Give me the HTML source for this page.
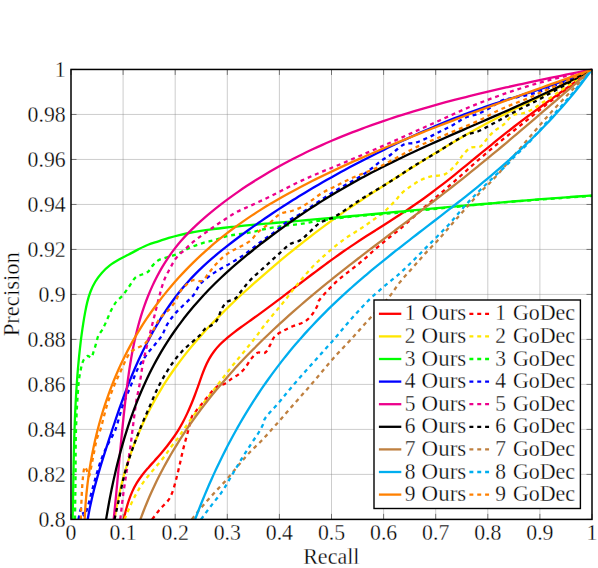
<!DOCTYPE html>
<html><head><meta charset="utf-8"><title>Precision-Recall</title>
<style>html,body{margin:0;padding:0;background:#fff;}svg{display:block;}text{font-family:"Liberation Serif",serif;font-size:23.30px;fill:#000;stroke:#fff;stroke-width:0.32px;}</style></head><body>
<svg width="598" height="568" viewBox="0 0 598 568">
<rect x="0" y="0" width="598" height="568" fill="#fff"/>
<path d="M123.10 69.45V519.40M175.20 69.45V519.40M227.30 69.45V519.40M279.40 69.45V519.40M331.50 69.45V519.40M383.60 69.45V519.40M435.70 69.45V519.40M487.80 69.45V519.40M539.90 69.45V519.40M71.00 114.44H592.00M71.00 159.44H592.00M71.00 204.44H592.00M71.00 249.43H592.00M71.00 294.43H592.00M71.00 339.42H592.00M71.00 384.42H592.00M71.00 429.41H592.00M71.00 474.40H592.00" stroke="#808080" stroke-width="0.4" fill="none"/>
<path d="M71.00 519.40v-5.50M71.00 69.45v5.50M71.00 69.45h5.50M592.00 69.45h-5.50M123.10 519.40v-5.50M123.10 69.45v5.50M71.00 114.44h5.50M592.00 114.44h-5.50M175.20 519.40v-5.50M175.20 69.45v5.50M71.00 159.44h5.50M592.00 159.44h-5.50M227.30 519.40v-5.50M227.30 69.45v5.50M71.00 204.44h5.50M592.00 204.44h-5.50M279.40 519.40v-5.50M279.40 69.45v5.50M71.00 249.43h5.50M592.00 249.43h-5.50M331.50 519.40v-5.50M331.50 69.45v5.50M71.00 294.43h5.50M592.00 294.43h-5.50M383.60 519.40v-5.50M383.60 69.45v5.50M71.00 339.42h5.50M592.00 339.42h-5.50M435.70 519.40v-5.50M435.70 69.45v5.50M71.00 384.42h5.50M592.00 384.42h-5.50M487.80 519.40v-5.50M487.80 69.45v5.50M71.00 429.41h5.50M592.00 429.41h-5.50M539.90 519.40v-5.50M539.90 69.45v5.50M71.00 474.40h5.50M592.00 474.40h-5.50M592.00 519.40v-5.50M592.00 69.45v5.50M71.00 519.40h5.50M592.00 519.40h-5.50" stroke="#222" stroke-width="0.55" fill="none"/>
<clipPath id="c"><rect x="71.00" y="68.85" width="521.60" height="451.15"/></clipPath>
<g clip-path="url(#c)" fill="none" stroke-width="2.30" stroke-linejoin="round">
<path d="M123.70 519.40C124.46 516.26 125.13 513.10 125.97 509.98C126.82 506.86 127.70 503.73 128.75 500.66C129.79 497.62 130.92 494.58 132.24 491.65C133.55 488.75 135.01 485.88 136.65 483.15C138.29 480.43 140.15 477.83 142.07 475.29C144.00 472.74 146.11 470.31 148.20 467.88C150.30 465.43 152.50 463.08 154.63 460.66C156.77 458.24 158.93 455.85 161.01 453.39C163.09 450.94 165.15 448.46 167.13 445.94C169.11 443.42 171.04 440.87 172.89 438.25C174.73 435.65 176.51 432.99 178.19 430.28C179.87 427.56 181.45 424.78 182.96 421.97C184.47 419.15 185.88 416.27 187.24 413.37C188.61 410.45 189.89 407.49 191.13 404.52C192.38 401.53 193.56 398.51 194.71 395.48C195.86 392.43 196.95 389.36 198.05 386.30C199.15 383.23 200.18 380.13 201.30 377.07C202.42 374.04 203.52 370.99 204.79 368.02C206.05 365.10 207.35 362.18 208.90 359.40C210.42 356.66 212.11 353.97 213.99 351.47C215.87 348.95 218.00 346.58 220.19 344.32C222.41 342.04 224.81 339.90 227.23 337.82C229.66 335.73 232.21 333.76 234.76 331.80C237.31 329.84 239.93 327.96 242.54 326.07C245.15 324.19 247.80 322.35 250.42 320.47C253.04 318.60 255.67 316.73 258.27 314.84C260.88 312.95 263.47 311.04 266.06 309.13C268.65 307.22 271.23 305.30 273.80 303.37C276.37 301.44 278.94 299.50 281.50 297.56C284.06 295.62 286.62 293.67 289.18 291.73C291.73 289.78 294.29 287.83 296.84 285.88C299.40 283.94 301.95 281.99 304.51 280.05C307.06 278.11 309.62 276.17 312.18 274.24C314.75 272.31 317.31 270.39 319.89 268.47C322.46 266.56 325.04 264.65 327.63 262.76C330.22 260.87 332.82 258.98 335.43 257.12C338.04 255.25 340.65 253.40 343.29 251.57C345.92 249.74 348.57 247.92 351.23 246.13C353.89 244.33 356.56 242.56 359.25 240.79C361.93 239.03 364.63 237.29 367.33 235.55C370.03 233.81 372.74 232.08 375.45 230.35C378.16 228.62 380.88 226.90 383.59 225.18C386.30 223.45 389.02 221.73 391.72 219.99C394.43 218.25 397.13 216.51 399.83 214.76C402.52 213.00 405.20 211.24 407.87 209.45C410.54 207.66 413.20 205.86 415.84 204.03C418.48 202.20 421.10 200.35 423.71 198.48C426.31 196.60 428.90 194.70 431.48 192.78C434.05 190.86 436.61 188.92 439.15 186.96C441.70 185.01 444.24 183.03 446.76 181.04C449.29 179.06 451.80 177.05 454.31 175.04C456.82 173.03 459.32 171.01 461.81 168.98C464.31 166.95 466.80 164.92 469.29 162.88C471.78 160.84 474.26 158.80 476.75 156.75C479.23 154.71 481.72 152.67 484.20 150.63C486.69 148.59 489.18 146.55 491.68 144.52C494.17 142.49 496.67 140.46 499.17 138.45C501.68 136.44 504.19 134.43 506.72 132.44C509.24 130.45 511.77 128.47 514.31 126.50C516.85 124.54 519.41 122.60 521.97 120.66C524.54 118.72 527.11 116.80 529.69 114.89C532.27 112.98 534.86 111.08 537.45 109.18C540.04 107.28 542.64 105.40 545.24 103.51C547.84 101.62 550.45 99.75 553.05 97.87C555.66 95.99 558.27 94.11 560.87 92.23C563.48 90.35 566.09 88.48 568.69 86.59C571.29 84.71 573.89 82.82 576.49 80.92C579.09 79.03 581.68 77.13 584.26 75.22C586.85 73.30 589.42 71.37 592.00 69.45" stroke="#ff0000"/>
<path d="M152.10 519.40C154.90 515.80 157.55 512.07 160.50 508.60C162.98 505.67 166.18 503.29 168.40 500.20C170.18 497.72 171.42 494.78 172.50 491.90C173.92 488.11 174.85 484.12 175.90 480.20C177.09 475.76 178.14 471.28 179.20 466.80C180.64 460.68 181.87 454.50 183.40 448.40C184.94 442.24 186.76 436.14 188.40 430.00C189.56 425.64 190.14 421.02 191.80 416.90C192.68 414.72 194.53 412.98 196.00 411.10C198.43 407.98 201.02 404.98 203.50 401.90C205.75 399.11 207.83 396.17 210.20 393.50C212.29 391.14 214.33 388.52 216.90 386.80C219.33 385.18 222.62 384.93 225.20 383.50C227.62 382.16 229.60 380.08 231.90 378.50C234.07 377.01 236.57 375.95 238.60 374.30C241.03 372.32 243.32 370.04 245.30 367.60C247.45 364.94 248.83 361.65 251.00 359.00C252.90 356.68 254.95 353.85 257.50 352.70C259.61 351.75 263.11 353.84 265.00 352.70C267.31 351.31 268.57 347.73 270.10 345.10C271.50 342.70 272.10 339.72 273.80 337.60C275.43 335.56 277.81 333.97 280.10 332.60C284.08 330.21 288.35 328.21 292.60 326.30C296.72 324.45 301.44 323.64 305.20 321.30C308.14 319.47 310.57 316.58 312.70 313.80C314.73 311.15 316.26 308.03 317.70 305.00C318.36 303.60 318.13 301.76 319.00 300.50C321.49 296.89 324.75 293.66 327.80 290.40C331.02 286.96 334.28 283.53 337.80 280.40C341.78 276.86 346.13 273.74 350.30 270.40C354.50 267.04 358.81 263.79 362.90 260.30C367.17 256.66 371.15 252.67 375.40 249.00C380.35 244.73 385.43 240.62 390.50 236.50C393.63 233.96 396.95 231.64 400.00 229.00C409.11 221.14 417.94 212.93 427.00 205.00C435.50 197.56 444.20 190.34 452.70 182.90C461.13 175.51 469.35 167.87 477.80 160.50C484.02 155.07 490.34 149.77 496.70 144.50C502.21 139.93 507.82 135.48 513.40 131.00C518.99 126.52 524.61 122.07 530.20 117.60C535.77 113.14 541.27 108.59 546.90 104.20C561.87 92.54 576.97 81.03 592.00 69.45" stroke="#ff0000" stroke-dasharray="3.95 3.9"/>
<path d="M114.50 519.40C115.03 516.13 115.52 512.86 116.09 509.60C116.67 506.34 117.29 503.09 117.95 499.86C118.62 496.62 119.33 493.39 120.08 490.17C120.84 486.95 121.64 483.75 122.48 480.55C123.33 477.36 124.21 474.18 125.15 471.01C126.08 467.84 127.05 464.69 128.07 461.55C129.09 458.41 130.16 455.29 131.26 452.18C132.37 449.08 133.52 445.99 134.71 442.92C135.90 439.84 137.14 436.79 138.41 433.75C139.69 430.72 141.01 427.70 142.37 424.71C143.73 421.71 145.14 418.74 146.59 415.78C148.03 412.83 149.52 409.90 151.05 406.99C152.58 404.08 154.15 401.19 155.76 398.33C157.37 395.47 159.03 392.63 160.72 389.82C162.41 387.01 164.15 384.22 165.93 381.46C167.70 378.71 169.52 375.97 171.37 373.27C173.23 370.56 175.12 367.89 177.06 365.24C178.99 362.59 180.96 359.96 182.96 357.36C184.97 354.76 187.01 352.19 189.08 349.64C191.15 347.09 193.26 344.57 195.39 342.07C197.53 339.56 199.69 337.08 201.88 334.63C204.08 332.17 206.30 329.73 208.54 327.32C210.79 324.90 213.06 322.51 215.35 320.14C217.65 317.76 219.96 315.41 222.30 313.07C224.64 310.74 227.00 308.42 229.37 306.12C231.75 303.82 234.14 301.53 236.55 299.27C238.96 297.00 241.39 294.75 243.83 292.51C246.27 290.28 248.72 288.06 251.19 285.85C253.65 283.64 256.12 281.45 258.61 279.27C261.09 277.09 263.58 274.92 266.08 272.76C268.58 270.61 271.09 268.47 273.60 266.33C276.11 264.20 278.64 262.08 281.17 259.97C283.69 257.87 286.23 255.77 288.78 253.69C291.32 251.61 293.88 249.54 296.44 247.49C299.01 245.43 301.58 243.39 304.16 241.36C306.75 239.34 309.34 237.33 311.95 235.33C314.55 233.33 317.17 231.34 319.80 229.38C322.42 227.41 325.06 225.45 327.71 223.51C330.36 221.58 333.03 219.65 335.70 217.74C338.38 215.84 341.07 213.95 343.77 212.07C346.47 210.19 349.19 208.33 351.91 206.49C354.63 204.64 357.37 202.80 360.11 200.98C362.86 199.16 365.61 197.35 368.37 195.54C371.13 193.74 373.90 191.95 376.67 190.16C379.44 188.37 382.22 186.59 385.00 184.81C387.78 183.04 390.56 181.27 393.35 179.50C396.13 177.73 398.92 175.96 401.70 174.19C404.49 172.43 407.27 170.66 410.06 168.90C412.85 167.14 415.63 165.38 418.43 163.63C421.22 161.88 424.01 160.13 426.81 158.39C429.60 156.66 432.40 154.92 435.21 153.20C438.01 151.48 440.82 149.76 443.64 148.06C446.46 146.35 449.28 144.66 452.10 142.98C454.93 141.30 457.77 139.63 460.61 137.98C463.45 136.32 466.30 134.68 469.16 133.06C472.02 131.44 474.89 129.83 477.77 128.24C480.65 126.65 483.54 125.08 486.44 123.53C489.34 121.97 492.25 120.44 495.17 118.93C498.09 117.41 501.02 115.92 503.96 114.44C506.90 112.96 509.85 111.49 512.80 110.03C515.75 108.57 518.71 107.12 521.67 105.68C524.63 104.23 527.60 102.79 530.56 101.35C533.52 99.90 536.49 98.46 539.45 97.01C542.41 95.57 545.37 94.12 548.33 92.65C551.28 91.19 554.24 89.72 557.18 88.24C560.12 86.75 563.06 85.25 565.98 83.73C568.91 82.21 571.83 80.68 574.73 79.12C577.64 77.56 580.53 75.98 583.41 74.37C586.29 72.76 589.14 71.09 592.00 69.45" stroke="#ffe600"/>
<path d="M124.50 519.40C127.30 513.00 129.82 506.46 132.90 500.20C135.42 495.06 138.20 490.00 141.30 485.20C143.77 481.37 146.75 477.87 149.60 474.30C152.32 470.90 155.22 467.65 158.00 464.30C160.02 461.88 162.10 459.51 164.00 457.00C166.10 454.21 167.92 451.21 170.00 448.40C172.72 444.71 175.70 441.21 178.40 437.50C180.17 435.07 181.68 432.46 183.40 430.00C187.25 424.50 191.04 418.95 195.10 413.60C199.41 407.92 204.11 402.52 208.50 396.90C213.04 391.09 217.40 385.14 221.90 379.30C225.77 374.28 229.63 369.25 233.60 364.30C237.43 359.51 241.43 354.86 245.30 350.10C248.96 345.59 252.66 341.10 256.20 336.50C259.22 332.57 261.91 328.38 265.00 324.50C271.34 316.54 278.10 308.91 284.50 301.00C287.30 297.54 289.85 293.89 292.60 290.40C295.91 286.19 299.21 281.96 302.70 277.90C306.74 273.19 310.79 268.45 315.20 264.10C320.82 258.55 326.78 253.32 332.80 248.20C336.81 244.79 340.98 241.52 345.30 238.50C350.71 234.72 356.49 231.45 362.00 227.80C365.29 225.62 368.50 223.32 371.70 221.00C375.77 218.05 379.99 215.27 383.80 212.00C387.76 208.60 391.39 204.78 395.00 201.00C396.96 198.95 398.56 196.56 400.50 194.50C401.89 193.03 403.36 191.58 405.00 190.40C409.89 186.88 414.84 183.29 420.10 180.40C423.21 178.69 426.66 177.46 430.10 176.60C435.02 175.36 440.73 176.11 445.20 174.10C449.09 172.35 452.19 168.53 455.20 165.30C458.02 162.27 459.99 158.45 462.70 155.30C465.02 152.61 467.28 149.31 470.30 147.80C473.15 146.38 477.57 148.06 480.30 146.50C483.41 144.72 485.21 140.62 487.80 137.80C490.21 135.18 492.58 132.47 495.30 130.20C497.62 128.27 500.60 127.16 502.90 125.20C506.47 122.16 509.05 117.56 512.90 115.20C515.42 113.66 519.02 114.26 522.00 113.50C524.28 112.92 526.55 112.16 528.70 111.20C531.02 110.16 533.24 108.85 535.40 107.50C537.71 106.05 539.81 104.28 542.10 102.80C544.28 101.38 546.62 100.22 548.80 98.80C551.09 97.32 553.24 95.63 555.50 94.10C567.64 85.85 579.83 77.67 592.00 69.45" stroke="#ffe600" stroke-dasharray="3.95 3.9"/>
<path d="M72.60 519.40C72.67 515.77 72.75 512.13 72.82 508.50C72.90 504.86 72.96 501.23 73.03 497.59C73.09 493.95 73.15 490.32 73.22 486.68C73.28 483.04 73.34 479.40 73.41 475.76C73.47 472.12 73.54 468.48 73.61 464.84C73.69 461.20 73.76 457.56 73.85 453.92C73.93 450.28 74.02 446.64 74.12 443.00C74.21 439.36 74.32 435.73 74.44 432.09C74.55 428.45 74.68 424.81 74.82 421.17C74.96 417.54 75.11 413.90 75.28 410.27C75.45 406.63 75.63 403.00 75.83 399.37C76.03 395.74 76.24 392.11 76.47 388.48C76.71 384.85 76.96 381.22 77.23 377.60C77.51 373.97 77.80 370.35 78.12 366.73C78.44 363.11 78.77 359.49 79.14 355.87C79.51 352.26 79.89 348.64 80.32 345.03C80.74 341.42 81.19 337.81 81.68 334.20C82.17 330.59 82.69 326.99 83.26 323.39C83.82 319.78 84.40 316.17 85.08 312.59C85.76 309.00 86.42 305.41 87.34 301.88C88.24 298.38 89.23 294.87 90.55 291.51C91.87 288.16 93.40 284.82 95.26 281.74C97.14 278.62 99.35 275.61 101.77 272.89C104.19 270.16 106.92 267.63 109.81 265.39C112.66 263.19 115.83 261.36 118.98 259.56C122.13 257.76 125.47 256.29 128.68 254.60C131.90 252.89 135.03 251.02 138.28 249.37C141.51 247.74 144.75 246.08 148.10 244.75C151.47 243.40 155.00 242.47 158.45 241.33C161.91 240.19 165.34 238.97 168.83 237.92C172.30 236.88 175.81 235.93 179.33 235.07C182.86 234.21 186.41 233.45 189.97 232.75C193.53 232.06 197.11 231.45 200.69 230.87C204.28 230.30 207.89 229.80 211.49 229.33C215.10 228.85 218.72 228.43 222.34 228.01C225.95 227.60 229.57 227.21 233.19 226.83C236.81 226.45 240.44 226.09 244.06 225.73C247.68 225.38 251.30 225.03 254.93 224.70C258.55 224.36 262.17 224.03 265.80 223.71C269.42 223.38 273.04 223.07 276.67 222.75C280.29 222.43 283.92 222.12 287.54 221.81C291.16 221.50 294.79 221.19 298.41 220.88C302.04 220.56 305.66 220.25 309.28 219.93C312.91 219.61 316.53 219.29 320.16 218.96C323.78 218.64 327.40 218.32 331.03 217.99C334.65 217.66 338.27 217.33 341.89 217.00C345.52 216.67 349.14 216.34 352.76 216.01C356.39 215.67 360.01 215.34 363.63 215.00C367.25 214.67 370.88 214.33 374.50 214.00C378.12 213.66 381.74 213.32 385.37 212.99C388.99 212.65 392.61 212.31 396.23 211.97C399.86 211.63 403.48 211.30 407.10 210.96C410.72 210.62 414.35 210.28 417.97 209.95C421.59 209.61 425.21 209.28 428.84 208.94C432.46 208.61 436.08 208.27 439.71 207.94C443.33 207.61 446.95 207.27 450.58 206.94C454.20 206.61 457.82 206.29 461.45 205.96C465.07 205.63 468.69 205.31 472.32 204.98C475.94 204.66 479.57 204.34 483.19 204.02C486.81 203.70 490.44 203.39 494.06 203.08C497.69 202.76 501.31 202.45 504.94 202.14C508.56 201.84 512.19 201.53 515.81 201.23C519.44 200.93 523.07 200.63 526.69 200.34C530.32 200.04 533.94 199.75 537.57 199.47C541.20 199.18 544.83 198.90 548.45 198.62C552.08 198.34 555.71 198.07 559.34 197.80C562.96 197.53 566.59 197.26 570.22 197.00C573.85 196.74 577.48 196.49 581.11 196.24C584.74 195.99 588.37 195.75 592.00 195.50" stroke="#00ff00"/>
<path d="M75.00 519.40C75.17 506.27 75.35 493.13 75.50 480.00C75.69 463.33 75.48 446.66 76.00 430.00C76.48 414.66 77.26 399.29 78.50 384.00C78.93 378.76 79.91 373.54 81.00 368.40C81.61 365.54 82.25 362.51 83.60 360.00C84.49 358.34 86.19 356.38 87.70 355.90C88.69 355.58 90.37 358.12 91.10 357.60C92.33 356.72 92.89 353.71 93.60 351.70C94.56 348.98 95.27 346.17 96.10 343.40C96.94 340.60 97.42 337.63 98.60 335.00C99.38 333.26 101.04 331.97 102.00 330.30C103.54 327.61 104.80 324.73 106.10 321.90C107.87 318.03 109.29 313.99 111.20 310.20C112.65 307.32 114.23 304.43 116.20 301.90C118.13 299.43 120.88 297.61 122.90 295.20C125.31 292.31 127.31 289.08 129.50 286.00C131.48 283.21 133.00 279.88 135.40 277.60C136.93 276.15 139.33 275.72 141.30 274.80C143.49 273.78 146.10 273.30 147.90 271.80C150.00 270.06 151.10 267.14 153.00 265.10C154.73 263.24 156.63 261.35 158.80 260.10C160.96 258.85 163.59 258.40 166.00 257.60C169.55 256.43 173.25 255.62 176.70 254.20C180.71 252.55 184.41 250.13 188.40 248.40C192.78 246.50 197.25 244.73 201.80 243.30C206.18 241.93 210.78 241.27 215.20 240.00C219.15 238.87 222.90 237.00 226.90 236.10C232.37 234.87 238.05 234.51 243.60 233.60C247.41 232.98 251.22 232.31 255.00 231.50C258.36 230.78 261.63 229.65 265.00 229.00C271.66 227.72 278.38 226.65 285.10 225.70C290.11 224.99 295.19 224.72 300.20 224.00C305.22 223.28 310.19 222.18 315.20 221.40C321.05 220.48 326.92 219.62 332.80 218.90C342.82 217.68 352.85 216.55 362.90 215.60C373.59 214.59 384.31 214.01 395.00 213.00C413.35 211.27 431.66 209.20 450.00 207.40C465.93 205.84 481.86 204.28 497.80 202.90C511.86 201.68 525.93 200.65 540.00 199.60C557.33 198.31 574.67 197.13 592.00 195.90" stroke="#00ff00" stroke-dasharray="3.95 3.9"/>
<path d="M87.70 519.40C88.33 515.97 88.90 512.53 89.58 509.12C90.26 505.70 91.00 502.30 91.78 498.90C92.56 495.51 93.39 492.13 94.25 488.75C95.11 485.38 96.02 482.02 96.96 478.66C97.89 475.30 98.86 471.95 99.85 468.61C100.85 465.27 101.87 461.93 102.90 458.60C103.94 455.27 105.00 451.95 106.06 448.63C107.13 445.31 108.21 442.00 109.29 438.68C110.37 435.37 111.46 432.06 112.55 428.75C113.65 425.45 114.75 422.15 115.87 418.85C116.99 415.56 118.11 412.27 119.26 408.98C120.41 405.70 121.58 402.43 122.77 399.16C123.95 395.89 125.16 392.64 126.40 389.39C127.64 386.14 128.90 382.90 130.20 379.68C131.50 376.46 132.83 373.24 134.19 370.05C135.56 366.85 136.96 363.66 138.40 360.49C139.85 357.32 141.33 354.16 142.86 351.02C144.39 347.88 145.96 344.76 147.58 341.66C149.20 338.56 150.86 335.48 152.57 332.43C154.29 329.38 156.04 326.35 157.84 323.35C159.65 320.36 161.49 317.39 163.39 314.45C165.29 311.52 167.23 308.62 169.22 305.76C171.21 302.90 173.25 300.08 175.34 297.30C177.44 294.52 179.58 291.79 181.78 289.10C183.99 286.43 186.24 283.79 188.56 281.22C190.88 278.64 193.27 276.12 195.70 273.66C198.14 271.19 200.63 268.78 203.16 266.41C205.70 264.04 208.29 261.72 210.90 259.43C213.52 257.14 216.19 254.90 218.87 252.69C221.56 250.47 224.28 248.30 227.02 246.14C229.76 243.99 232.53 241.87 235.31 239.76C238.09 237.65 240.88 235.57 243.69 233.50C246.50 231.43 249.32 229.39 252.16 227.36C254.99 225.34 257.84 223.33 260.70 221.34C263.57 219.36 266.44 217.39 269.33 215.44C272.22 213.49 275.13 211.56 278.04 209.65C280.95 207.74 283.88 205.84 286.82 203.97C289.76 202.09 292.71 200.24 295.67 198.40C298.63 196.56 301.60 194.74 304.58 192.93C307.56 191.13 310.56 189.34 313.56 187.57C316.56 185.80 319.58 184.05 322.60 182.31C325.62 180.57 328.66 178.85 331.70 177.15C334.74 175.44 337.79 173.75 340.85 172.08C343.91 170.41 346.97 168.75 350.05 167.11C353.12 165.46 356.21 163.84 359.30 162.22C362.39 160.61 365.49 159.01 368.59 157.43C371.70 155.84 374.81 154.27 377.93 152.72C381.04 151.16 384.17 149.62 387.30 148.09C390.43 146.56 393.56 145.05 396.71 143.55C399.85 142.05 403.00 140.56 406.16 139.10C409.31 137.63 412.48 136.18 415.65 134.74C418.82 133.31 422.00 131.89 425.18 130.49C428.37 129.09 431.56 127.71 434.76 126.35C437.97 124.99 441.18 123.65 444.39 122.33C447.61 121.01 450.84 119.71 454.08 118.43C457.31 117.16 460.56 115.90 463.81 114.67C467.06 113.44 470.33 112.23 473.60 111.04C476.87 109.85 480.16 108.69 483.45 107.56C486.74 106.42 490.04 105.31 493.35 104.20C496.66 103.10 499.97 102.02 503.29 100.95C506.61 99.87 509.93 98.81 513.25 97.75C516.58 96.68 519.90 95.63 523.22 94.57C526.55 93.50 529.87 92.44 533.19 91.36C536.51 90.28 539.83 89.20 543.13 88.09C546.44 86.99 549.75 85.87 553.04 84.72C556.33 83.58 559.62 82.41 562.90 81.21C566.17 80.01 569.44 78.79 572.69 77.53C575.93 76.26 579.17 74.96 582.39 73.62C585.61 72.27 588.80 70.84 592.00 69.45" stroke="#0000ff"/>
<path d="M78.50 519.40C78.93 517.10 79.25 514.77 79.80 512.50C80.15 511.07 80.68 508.49 81.20 508.30C81.61 508.15 82.19 510.41 82.60 511.50C83.09 512.81 83.32 515.21 83.90 515.50C84.32 515.71 85.20 513.92 85.60 513.00C86.57 510.75 87.30 508.36 88.00 506.00C88.97 502.70 89.72 499.33 90.60 496.00C91.62 492.16 92.65 488.33 93.70 484.50C94.85 480.33 95.93 476.14 97.20 472.00C98.53 467.64 99.89 463.27 101.50 459.00C103.09 454.77 104.89 450.60 106.80 446.50C108.15 443.60 109.83 440.85 111.30 438.00C112.67 435.35 114.31 432.80 115.30 430.00C118.18 421.87 120.05 413.35 122.90 405.20C125.08 398.95 127.90 392.93 130.40 386.80C132.90 380.67 134.94 374.30 137.90 368.40C140.24 363.73 143.26 359.36 146.30 355.10C148.83 351.56 151.90 348.42 154.60 345.00C157.20 341.72 160.02 338.55 162.20 335.00C164.05 331.98 164.87 328.34 166.70 325.30C169.17 321.21 172.04 317.28 175.10 313.60C177.61 310.58 180.62 307.99 183.40 305.20C186.72 301.86 190.48 298.86 193.40 295.20C196.04 291.89 197.42 287.56 200.10 284.30C202.46 281.43 205.54 279.09 208.50 276.80C211.67 274.35 215.09 272.21 218.50 270.10C222.32 267.74 226.34 265.71 230.20 263.40C234.71 260.71 239.26 258.06 243.60 255.10C247.53 252.42 251.23 249.40 255.00 246.50C256.69 245.20 258.29 243.78 260.00 242.50C264.99 238.78 270.15 235.28 275.10 231.50C279.35 228.25 283.23 224.47 287.60 221.40C291.59 218.60 296.07 216.52 300.20 213.90C305.27 210.68 310.19 207.23 315.20 203.90C320.23 200.56 325.18 197.10 330.30 193.90C335.21 190.83 340.30 188.03 345.30 185.10C350.33 182.16 355.49 179.43 360.40 176.30C364.69 173.56 368.83 170.56 372.90 167.50C375.49 165.56 377.77 163.18 380.40 161.30C383.47 159.11 386.94 157.50 390.00 155.30C392.64 153.40 394.90 150.96 397.50 149.00C399.90 147.19 402.24 144.97 405.00 144.00C408.11 142.90 411.86 143.69 415.10 142.80C419.39 141.62 423.51 139.64 427.60 137.80C431.88 135.87 436.00 133.61 440.20 131.50C444.37 129.41 448.62 127.45 452.70 125.20C456.95 122.85 460.80 119.68 465.20 117.70C469.17 115.91 473.74 115.52 477.80 113.90C482.11 112.18 486.23 109.94 490.30 107.70C494.59 105.34 498.42 101.90 502.90 100.10C506.78 98.54 511.26 98.57 515.40 97.60C523.63 95.67 532.08 94.31 540.00 91.40C557.62 84.93 574.67 76.77 592.00 69.45" stroke="#0000ff" stroke-dasharray="3.95 3.9"/>
<path d="M113.70 519.40C114.06 515.81 114.43 512.23 114.78 508.64C115.14 505.06 115.48 501.48 115.82 497.90C116.17 494.33 116.50 490.76 116.84 487.18C117.17 483.62 117.50 480.05 117.84 476.48C118.17 472.91 118.50 469.35 118.83 465.78C119.16 462.22 119.49 458.66 119.82 455.09C120.16 451.53 120.49 447.96 120.83 444.40C121.18 440.83 121.52 437.27 121.87 433.70C122.22 430.13 122.58 426.56 122.95 422.99C123.31 419.41 123.69 415.84 124.07 412.26C124.45 408.68 124.85 405.10 125.25 401.51C125.66 397.92 126.07 394.33 126.51 390.74C126.95 387.15 127.40 383.56 127.88 379.97C128.37 376.38 128.87 372.79 129.41 369.21C129.96 365.63 130.53 362.05 131.14 358.48C131.76 354.92 132.41 351.36 133.12 347.81C133.82 344.27 134.56 340.73 135.37 337.21C136.18 333.70 137.03 330.19 137.96 326.71C138.88 323.23 139.86 319.77 140.91 316.32C141.96 312.89 143.08 309.47 144.27 306.08C145.46 302.69 146.72 299.32 148.07 296.00C149.40 292.67 150.82 289.38 152.31 286.12C153.80 282.87 155.37 279.66 157.02 276.49C158.68 273.33 160.41 270.20 162.22 267.13C164.04 264.07 165.94 261.05 167.93 258.09C169.91 255.14 171.99 252.23 174.15 249.40C176.31 246.56 178.57 243.79 180.90 241.09C183.24 238.38 185.67 235.74 188.15 233.15C190.64 230.56 193.20 228.04 195.81 225.56C198.43 223.08 201.11 220.67 203.83 218.29C206.55 215.91 209.32 213.59 212.12 211.31C214.92 209.03 217.76 206.79 220.62 204.59C223.48 202.39 226.36 200.24 229.27 198.11C232.18 195.99 235.11 193.91 238.06 191.86C241.01 189.81 243.98 187.80 246.97 185.83C249.96 183.85 252.98 181.92 256.01 180.01C259.04 178.11 262.10 176.24 265.17 174.41C268.24 172.57 271.33 170.77 274.44 169.01C277.55 167.24 280.68 165.51 283.82 163.80C286.97 162.10 290.13 160.43 293.31 158.79C296.49 157.15 299.69 155.54 302.90 153.97C306.11 152.39 309.34 150.84 312.58 149.32C315.82 147.80 319.08 146.31 322.35 144.85C325.62 143.38 328.91 141.95 332.21 140.54C335.51 139.13 338.82 137.75 342.14 136.40C345.47 135.04 348.81 133.71 352.15 132.41C355.50 131.10 358.87 129.82 362.24 128.57C365.61 127.31 368.99 126.08 372.38 124.87C375.78 123.66 379.18 122.47 382.59 121.31C386.01 120.14 389.43 119.00 392.86 117.88C396.29 116.76 399.73 115.66 403.17 114.58C406.62 113.49 410.07 112.43 413.53 111.39C416.99 110.35 420.46 109.32 423.94 108.32C427.41 107.31 430.89 106.32 434.37 105.35C437.86 104.37 441.35 103.42 444.84 102.48C448.34 101.54 451.84 100.62 455.34 99.71C458.84 98.80 462.35 97.90 465.86 97.02C469.37 96.14 472.88 95.27 476.40 94.42C479.91 93.56 483.42 92.72 486.94 91.89C490.46 91.06 493.98 90.24 497.50 89.43C501.01 88.63 504.53 87.83 508.05 87.04C511.57 86.25 515.09 85.47 518.61 84.70C522.12 83.93 525.64 83.17 529.15 82.42C532.66 81.67 536.17 80.92 539.69 80.18C543.19 79.44 546.70 78.71 550.20 77.98C553.70 77.25 557.20 76.53 560.70 75.81C564.19 75.10 567.68 74.38 571.17 73.67C574.64 72.96 578.12 72.26 581.60 71.55C585.07 70.85 588.53 70.15 592.00 69.45" stroke="#ec008c"/>
<path d="M120.30 519.40C121.17 511.93 121.93 504.45 122.90 497.00C123.89 489.42 125.07 481.86 126.20 474.30C127.57 465.10 129.09 455.91 130.40 446.70C131.19 441.15 131.78 435.56 132.50 430.00C133.71 420.63 134.75 411.23 136.20 401.90C137.12 396.00 138.58 390.19 139.60 384.30C140.81 377.35 141.61 370.33 142.90 363.40C143.84 358.36 145.12 353.39 146.30 348.40C147.36 343.92 148.48 339.46 149.60 335.00C151.25 328.43 152.95 321.87 154.60 315.30C156.28 308.60 157.78 301.86 159.60 295.20C160.98 290.13 162.30 284.99 164.20 280.10C165.77 276.06 167.94 272.23 170.00 268.40C171.84 265.00 173.57 261.45 175.90 258.40C178.03 255.62 180.84 253.34 183.40 250.90C186.68 247.77 189.87 244.53 193.40 241.70C198.81 237.36 204.54 233.42 210.20 229.40C214.58 226.29 219.01 223.24 223.50 220.30C227.91 217.41 232.27 214.40 236.90 211.90C241.21 209.57 245.85 207.86 250.30 205.80C255.21 203.53 260.13 201.25 265.00 198.90C270.06 196.45 275.07 193.91 280.10 191.40C286.81 188.05 293.42 184.50 300.20 181.30C306.79 178.20 313.50 175.36 320.20 172.50C325.20 170.36 330.28 168.39 335.30 166.30C340.31 164.22 345.32 162.14 350.30 160.00C363.55 154.31 376.80 148.61 390.00 142.80C398.40 139.11 406.73 135.27 415.10 131.50C423.47 127.73 431.84 123.97 440.20 120.20C448.54 116.44 456.79 112.48 465.20 108.90C473.49 105.38 481.87 102.06 490.30 98.90C498.60 95.79 506.98 92.86 515.40 90.10C523.54 87.43 531.72 84.83 540.00 82.60C557.26 77.95 574.67 73.83 592.00 69.45" stroke="#ec008c" stroke-dasharray="3.95 3.9"/>
<path d="M106.10 519.40C106.66 516.09 107.21 512.78 107.79 509.47C108.38 506.15 108.98 502.83 109.61 499.52C110.24 496.20 110.89 492.88 111.57 489.57C112.25 486.25 112.95 482.94 113.68 479.63C114.41 476.31 115.17 473.00 115.95 469.70C116.73 466.39 117.54 463.09 118.39 459.80C119.23 456.51 120.10 453.22 121.00 449.94C121.90 446.66 122.83 443.39 123.80 440.13C124.76 436.87 125.76 433.62 126.79 430.38C127.82 427.14 128.89 423.91 129.99 420.70C131.09 417.49 132.23 414.29 133.40 411.11C134.58 407.93 135.79 404.76 137.04 401.61C138.29 398.46 139.57 395.32 140.90 392.21C142.23 389.10 143.60 386.00 145.01 382.93C146.42 379.86 147.87 376.81 149.37 373.78C150.86 370.75 152.40 367.74 153.98 364.76C155.57 361.78 157.19 358.83 158.87 355.90C160.54 352.97 162.26 350.06 164.03 347.19C165.79 344.32 167.61 341.47 169.46 338.65C171.32 335.83 173.22 333.04 175.16 330.28C177.11 327.52 179.09 324.79 181.12 322.10C183.15 319.40 185.22 316.73 187.33 314.09C189.44 311.45 191.59 308.85 193.77 306.28C195.96 303.70 198.19 301.16 200.45 298.66C202.72 296.15 205.02 293.68 207.35 291.24C209.69 288.80 212.07 286.40 214.47 284.02C216.87 281.65 219.31 279.31 221.78 276.99C224.24 274.68 226.74 272.40 229.26 270.14C231.78 267.88 234.33 265.65 236.90 263.45C239.47 261.24 242.07 259.06 244.68 256.90C247.30 254.74 249.93 252.60 252.58 250.48C255.23 248.36 257.90 246.26 260.58 244.18C263.26 242.10 265.95 240.04 268.66 237.99C271.37 235.95 274.09 233.92 276.83 231.91C279.56 229.90 282.31 227.91 285.06 225.93C287.82 223.95 290.59 221.99 293.37 220.05C296.14 218.11 298.93 216.19 301.74 214.29C304.54 212.39 307.35 210.51 310.18 208.65C313.00 206.79 315.84 204.95 318.69 203.13C321.54 201.32 324.41 199.53 327.28 197.76C330.16 195.99 333.05 194.25 335.95 192.52C338.85 190.80 341.76 189.09 344.69 187.41C347.61 185.73 350.55 184.07 353.50 182.42C356.44 180.78 359.40 179.16 362.37 177.55C365.34 175.95 368.32 174.37 371.31 172.80C374.30 171.23 377.30 169.68 380.30 168.15C383.31 166.62 386.33 165.11 389.36 163.61C392.39 162.11 395.42 160.63 398.47 159.16C401.51 157.69 404.56 156.24 407.62 154.80C410.68 153.36 413.75 151.93 416.82 150.51C419.89 149.09 422.97 147.69 426.05 146.29C429.13 144.89 432.22 143.50 435.31 142.12C438.41 140.74 441.50 139.36 444.60 138.00C447.70 136.63 450.80 135.26 453.91 133.90C457.01 132.54 460.12 131.19 463.23 129.83C466.34 128.48 469.45 127.13 472.56 125.78C475.67 124.42 478.78 123.07 481.89 121.72C485.00 120.37 488.11 119.02 491.22 117.66C494.32 116.30 497.43 114.94 500.54 113.58C503.64 112.21 506.74 110.84 509.84 109.46C512.94 108.09 516.03 106.71 519.12 105.31C522.21 103.92 525.30 102.52 528.38 101.11C531.46 99.70 534.54 98.29 537.61 96.85C540.68 95.42 543.74 93.98 546.80 92.52C549.86 91.07 552.91 89.60 555.95 88.11C558.99 86.63 562.02 85.13 565.05 83.61C568.07 82.09 571.09 80.56 574.09 79.00C577.10 77.45 580.09 75.88 583.08 74.29C586.06 72.70 589.03 71.06 592.00 69.45" stroke="#000000"/>
<path d="M114.50 519.40C116.17 511.90 117.84 504.40 119.50 496.90C121.17 489.37 122.56 481.76 124.50 474.30C126.19 467.79 128.23 461.37 130.40 455.00C133.26 446.60 136.33 438.25 139.60 430.00C142.53 422.59 145.82 415.31 149.00 408.00C152.12 400.81 154.95 393.47 158.50 386.50C161.95 379.74 165.79 373.11 170.00 366.80C173.52 361.51 177.34 356.31 181.70 351.70C187.37 345.71 194.21 340.79 200.10 335.00C202.04 333.09 203.20 330.36 205.20 328.60C206.57 327.40 208.69 327.17 210.20 326.10C212.59 324.40 215.30 322.69 216.90 320.30C219.20 316.86 219.89 312.30 221.90 308.60C223.22 306.17 224.76 303.52 226.90 301.90C229.22 300.15 233.00 300.30 235.30 298.50C238.00 296.40 239.67 292.94 241.90 290.20C244.67 286.81 247.24 283.22 250.30 280.10C254.94 275.36 260.09 271.09 265.00 266.60C270.03 261.99 275.03 257.36 280.10 252.80C283.40 249.83 286.39 246.31 290.10 244.00C293.09 242.14 297.21 242.16 300.20 240.30C303.91 237.99 306.87 234.43 310.20 231.50C313.53 228.57 316.45 224.96 320.20 222.70C324.81 219.93 330.53 218.99 335.30 216.40C340.56 213.55 345.29 209.73 350.30 206.40C355.33 203.06 360.28 199.60 365.40 196.40C370.31 193.33 375.44 190.60 380.40 187.60C385.31 184.63 390.18 181.60 395.00 178.50C401.74 174.17 408.30 169.54 415.10 165.30C423.37 160.14 431.85 155.32 440.20 150.30C448.55 145.29 456.55 139.52 465.20 135.20C469.09 133.26 473.75 133.11 477.80 131.50C482.12 129.78 486.19 127.40 490.30 125.20C498.72 120.70 506.96 115.87 515.40 111.40C523.53 107.10 531.93 103.32 540.00 98.90C557.47 89.33 574.67 79.27 592.00 69.45" stroke="#000000" stroke-dasharray="3.95 3.9"/>
<path d="M140.40 519.40C141.52 516.43 142.60 513.44 143.76 510.48C144.91 507.54 146.09 504.61 147.31 501.70C148.53 498.79 149.78 495.90 151.07 493.03C152.35 490.17 153.67 487.32 155.02 484.49C156.37 481.67 157.75 478.86 159.16 476.07C160.57 473.29 162.01 470.52 163.48 467.77C164.95 465.02 166.45 462.29 167.98 459.58C169.51 456.88 171.06 454.19 172.65 451.51C174.23 448.84 175.85 446.19 177.49 443.55C179.13 440.92 180.79 438.30 182.49 435.71C184.18 433.11 185.90 430.53 187.64 427.97C189.38 425.40 191.15 422.86 192.95 420.33C194.74 417.80 196.56 415.29 198.40 412.80C200.24 410.31 202.11 407.83 203.99 405.37C205.88 402.91 207.79 400.47 209.72 398.04C211.65 395.62 213.60 393.21 215.58 390.81C217.55 388.42 219.55 386.04 221.56 383.68C223.57 381.31 225.61 378.97 227.66 376.64C229.72 374.30 231.79 371.99 233.88 369.68C235.97 367.38 238.08 365.10 240.20 362.82C242.33 360.55 244.47 358.29 246.63 356.05C248.79 353.81 250.97 351.58 253.16 349.36C255.35 347.14 257.56 344.94 259.78 342.75C262.00 340.57 264.24 338.39 266.49 336.23C268.74 334.07 271.00 331.92 273.28 329.78C275.56 327.65 277.85 325.52 280.15 323.41C282.45 321.30 284.76 319.21 287.09 317.12C289.41 315.03 291.75 312.96 294.09 310.90C296.44 308.83 298.80 306.78 301.16 304.75C303.53 302.71 305.90 300.68 308.29 298.66C310.67 296.65 313.06 294.64 315.46 292.64C317.86 290.65 320.27 288.66 322.68 286.69C325.10 284.71 327.52 282.74 329.95 280.78C332.38 278.82 334.81 276.87 337.26 274.93C339.70 272.99 342.14 271.05 344.59 269.12C347.05 267.19 349.50 265.27 351.96 263.35C354.43 261.43 356.89 259.52 359.36 257.62C361.83 255.71 364.30 253.81 366.78 251.91C369.26 250.01 371.74 248.12 374.22 246.23C376.70 244.34 379.18 242.45 381.67 240.56C384.15 238.68 386.64 236.80 389.13 234.91C391.62 233.03 394.10 231.15 396.59 229.27C399.08 227.39 401.57 225.52 404.06 223.64C406.55 221.76 409.04 219.88 411.53 218.00C414.01 216.12 416.50 214.23 418.98 212.35C421.47 210.47 423.95 208.58 426.43 206.69C428.91 204.80 431.39 202.91 433.86 201.01C436.34 199.12 438.81 197.22 441.28 195.32C443.74 193.41 446.21 191.50 448.66 189.59C451.12 187.67 453.58 185.76 456.03 183.83C458.47 181.90 460.92 179.97 463.36 178.03C465.79 176.09 468.23 174.15 470.65 172.19C473.08 170.24 475.50 168.28 477.92 166.32C480.34 164.36 482.75 162.39 485.16 160.41C487.57 158.44 489.97 156.46 492.37 154.47C494.77 152.49 497.17 150.50 499.56 148.50C501.95 146.51 504.34 144.51 506.73 142.51C509.11 140.50 511.50 138.50 513.88 136.49C516.26 134.48 518.64 132.46 521.01 130.45C523.39 128.43 525.76 126.41 528.13 124.39C530.50 122.36 532.87 120.34 535.24 118.31C537.61 116.28 539.98 114.25 542.34 112.22C544.71 110.19 547.07 108.16 549.43 106.12C551.80 104.09 554.16 102.05 556.52 100.01C558.89 97.98 561.25 95.94 563.61 93.90C565.98 91.86 568.34 89.82 570.70 87.79C573.07 85.75 575.43 83.71 577.79 81.67C580.16 79.63 582.53 77.59 584.89 75.56C587.26 73.52 589.63 71.49 592.00 69.45" stroke="#bf8040"/>
<path d="M191.80 519.40C195.13 515.23 198.34 510.96 201.80 506.90C206.14 501.80 210.69 496.86 215.20 491.90C219.06 487.66 223.13 483.62 226.90 479.30C230.93 474.68 234.63 469.78 238.60 465.10C242.43 460.58 246.24 456.01 250.30 451.70C253.71 448.08 257.58 444.91 261.00 441.30C266.68 435.31 272.12 429.08 277.60 422.90C283.49 416.25 289.25 409.48 295.10 402.80C300.95 396.12 306.91 389.54 312.70 382.80C319.48 374.90 325.92 366.71 332.80 358.90C338.46 352.48 344.53 346.42 350.30 340.10C357.89 331.79 365.35 323.36 372.90 315.00C378.09 309.26 383.58 303.76 388.50 297.80C392.68 292.73 396.07 287.02 400.20 281.90C404.41 276.68 409.07 271.83 413.50 266.80C417.43 262.33 421.28 257.78 425.30 253.40C429.11 249.25 433.21 245.37 437.00 241.20C441.51 236.24 445.78 231.05 450.20 226.00C455.18 220.31 460.20 214.66 465.20 209.00C468.53 205.23 471.82 201.42 475.20 197.70C477.42 195.26 479.68 192.85 482.00 190.50C484.45 188.02 487.07 185.71 489.50 183.20C493.07 179.51 496.59 175.74 500.00 171.90C502.89 168.64 505.58 165.21 508.40 161.90C511.74 157.98 515.14 154.11 518.50 150.20C521.84 146.31 525.17 142.40 528.50 138.50C531.83 134.60 535.16 130.69 538.50 126.80C541.86 122.89 545.16 118.93 548.60 115.10C552.43 110.83 556.35 106.65 560.30 102.50C570.82 91.44 581.43 80.47 592.00 69.45" stroke="#bf8040" stroke-dasharray="3.95 3.9"/>
<path d="M195.10 519.40C196.14 516.66 197.16 513.92 198.21 511.19C199.27 508.46 200.34 505.73 201.44 503.01C202.53 500.28 203.64 497.57 204.77 494.86C205.90 492.14 207.05 489.44 208.22 486.74C209.39 484.04 210.57 481.35 211.78 478.66C212.98 475.98 214.20 473.30 215.45 470.63C216.69 467.96 217.95 465.30 219.23 462.64C220.51 459.99 221.81 457.34 223.13 454.70C224.45 452.07 225.79 449.44 227.14 446.82C228.50 444.20 229.87 441.60 231.27 439.00C232.66 436.40 234.08 433.81 235.51 431.24C236.95 428.66 238.40 426.10 239.87 423.54C241.34 420.99 242.84 418.45 244.35 415.92C245.86 413.39 247.39 410.87 248.94 408.37C250.49 405.87 252.06 403.38 253.65 400.90C255.24 398.42 256.85 395.96 258.48 393.51C260.11 391.06 261.76 388.63 263.43 386.21C265.10 383.79 266.78 381.38 268.49 378.99C270.20 376.60 271.93 374.23 273.68 371.87C275.42 369.51 277.19 367.17 278.98 364.84C280.76 362.51 282.57 360.20 284.39 357.90C286.22 355.61 288.06 353.33 289.92 351.06C291.79 348.80 293.67 346.55 295.57 344.32C297.47 342.08 299.38 339.87 301.32 337.67C303.26 335.47 305.21 333.29 307.19 331.12C309.16 328.95 311.15 326.80 313.16 324.67C315.17 322.54 317.20 320.42 319.24 318.33C321.29 316.23 323.35 314.14 325.43 312.08C327.50 310.01 329.60 307.96 331.71 305.93C333.82 303.89 335.95 301.87 338.09 299.87C340.23 297.86 342.38 295.87 344.55 293.89C346.72 291.91 348.90 289.95 351.09 288.00C353.28 286.04 355.49 284.10 357.71 282.17C359.92 280.25 362.15 278.33 364.39 276.42C366.63 274.52 368.88 272.62 371.13 270.74C373.39 268.85 375.66 266.98 377.93 265.11C380.21 263.25 382.49 261.39 384.78 259.54C387.07 257.69 389.37 255.85 391.68 254.02C393.98 252.19 396.29 250.36 398.60 248.54C400.92 246.72 403.24 244.90 405.56 243.09C407.88 241.28 410.21 239.47 412.54 237.67C414.87 235.87 417.20 234.07 419.53 232.27C421.86 230.47 424.20 228.67 426.53 226.87C428.87 225.08 431.20 223.28 433.54 221.48C435.87 219.69 438.20 217.89 440.54 216.09C442.87 214.29 445.19 212.49 447.52 210.68C449.85 208.88 452.17 207.07 454.49 205.26C456.80 203.45 459.12 201.63 461.43 199.81C463.73 197.99 466.04 196.16 468.33 194.32C470.63 192.49 472.92 190.65 475.20 188.80C477.48 186.95 479.76 185.09 482.02 183.22C484.28 181.35 486.54 179.48 488.79 177.59C491.04 175.71 493.27 173.81 495.50 171.90C497.73 170.00 499.95 168.08 502.15 166.15C504.36 164.22 506.56 162.28 508.74 160.33C510.93 158.38 513.10 156.42 515.26 154.44C517.42 152.46 519.57 150.47 521.71 148.47C523.85 146.47 525.97 144.46 528.08 142.43C530.19 140.40 532.29 138.35 534.37 136.30C536.46 134.24 538.53 132.16 540.58 130.08C542.64 127.99 544.68 125.88 546.70 123.77C548.73 121.65 550.74 119.51 552.73 117.36C554.72 115.20 556.70 113.04 558.66 110.85C560.62 108.66 562.56 106.46 564.49 104.24C566.42 102.01 568.33 99.77 570.22 97.51C572.11 95.25 573.98 92.97 575.83 90.68C577.69 88.38 579.53 86.06 581.34 83.73C583.16 81.38 584.96 79.03 586.73 76.65C588.51 74.27 590.24 71.85 592.00 69.45" stroke="#00aeef"/>
<path d="M201.00 519.40C204.07 515.23 207.07 511.02 210.20 506.90C214.04 501.85 218.32 497.12 221.90 491.90C225.56 486.56 228.57 480.77 231.90 475.20C235.24 469.60 238.49 463.95 241.90 458.40C245.19 453.05 248.58 447.76 252.00 442.50C254.08 439.30 256.41 436.25 258.40 433.00C260.08 430.25 261.70 427.42 263.00 424.50C263.63 423.09 263.58 421.40 264.20 420.00C264.82 418.60 265.71 417.28 266.70 416.10C270.44 411.68 274.62 407.61 278.40 403.20C282.99 397.84 287.23 392.18 291.80 386.80C296.17 381.65 300.72 376.65 305.20 371.60C310.18 365.99 315.20 360.40 320.20 354.80C324.67 349.80 329.21 344.86 333.60 339.80C339.24 333.30 344.60 326.55 350.30 320.10C356.03 313.62 361.78 307.12 367.90 301.00C372.82 296.08 378.14 291.55 383.40 287.00C387.77 283.22 392.46 279.81 396.80 276.00C401.39 271.97 405.81 267.74 410.20 263.50C414.74 259.11 419.13 254.57 423.60 250.10C428.07 245.63 432.58 241.21 437.00 236.70C441.44 232.17 445.95 227.70 450.20 223.00C455.35 217.30 460.08 211.23 465.20 205.50C468.42 201.90 471.81 198.44 475.20 195.00C479.34 190.81 483.54 186.67 487.80 182.60C491.91 178.67 496.14 174.87 500.30 171.00C502.87 168.61 505.53 166.29 508.00 163.80C509.89 161.89 511.52 159.72 513.40 157.80C518.92 152.19 524.83 146.95 530.20 141.20C536.00 134.98 541.26 128.26 546.90 121.90C553.52 114.43 560.49 107.27 567.00 99.70C575.53 89.78 583.67 79.53 592.00 69.45" stroke="#00aeef" stroke-dasharray="3.95 3.9"/>
<path d="M84.70 519.40C84.88 515.89 85.02 512.37 85.25 508.86C85.47 505.34 85.74 501.82 86.05 498.30C86.35 494.78 86.70 491.26 87.10 487.75C87.49 484.23 87.93 480.71 88.41 477.20C88.89 473.69 89.41 470.18 89.98 466.67C90.55 463.17 91.16 459.67 91.81 456.18C92.47 452.69 93.17 449.21 93.91 445.73C94.65 442.26 95.44 438.79 96.28 435.34C97.11 431.88 97.99 428.44 98.91 425.01C99.84 421.58 100.80 418.16 101.82 414.76C102.84 411.36 103.90 407.97 105.01 404.59C106.11 401.22 107.27 397.87 108.47 394.53C109.67 391.20 110.92 387.88 112.21 384.58C113.51 381.28 114.85 378.01 116.24 374.75C117.63 371.50 119.07 368.26 120.56 365.05C122.04 361.85 123.58 358.66 125.16 355.50C126.74 352.34 128.38 349.21 130.06 346.11C131.74 343.00 133.47 339.92 135.24 336.87C137.02 333.83 138.84 330.80 140.71 327.81C142.58 324.82 144.49 321.86 146.45 318.93C148.41 316.00 150.41 313.09 152.46 310.22C154.51 307.35 156.60 304.51 158.73 301.71C160.86 298.90 163.03 296.12 165.25 293.38C167.46 290.64 169.72 287.93 172.01 285.26C174.30 282.58 176.64 279.94 179.01 277.33C181.38 274.72 183.79 272.15 186.23 269.62C188.68 267.08 191.16 264.58 193.68 262.11C196.19 259.65 198.75 257.22 201.33 254.83C203.92 252.44 206.54 250.09 209.20 247.77C211.85 245.46 214.54 243.18 217.25 240.95C219.97 238.71 222.72 236.51 225.50 234.36C228.28 232.20 231.09 230.07 233.92 227.99C236.76 225.90 239.63 223.86 242.51 221.84C245.40 219.82 248.32 217.85 251.26 215.90C254.20 213.95 257.17 212.03 260.15 210.15C263.14 208.26 266.15 206.41 269.18 204.59C272.21 202.76 275.26 200.96 278.32 199.19C281.39 197.42 284.48 195.68 287.58 193.97C290.68 192.25 293.81 190.56 296.94 188.89C300.07 187.22 303.22 185.58 306.38 183.96C309.55 182.33 312.72 180.73 315.91 179.15C319.09 177.57 322.29 176.01 325.50 174.47C328.71 172.92 331.92 171.40 335.14 169.89C338.37 168.38 341.60 166.89 344.83 165.41C348.07 163.93 351.31 162.47 354.56 161.02C357.80 159.57 361.05 158.13 364.30 156.71C367.55 155.28 370.81 153.87 374.06 152.46C377.32 151.06 380.58 149.67 383.84 148.28C387.10 146.90 390.36 145.53 393.63 144.16C396.90 142.80 400.17 141.45 403.44 140.10C406.71 138.76 409.98 137.43 413.26 136.10C416.53 134.77 419.81 133.46 423.09 132.15C426.37 130.84 429.65 129.54 432.94 128.24C436.22 126.95 439.51 125.66 442.80 124.38C446.09 123.10 449.38 121.83 452.67 120.56C455.96 119.30 459.26 118.04 462.55 116.78C465.85 115.53 469.15 114.28 472.45 113.03C475.75 111.79 479.05 110.55 482.36 109.32C485.66 108.08 488.97 106.85 492.28 105.63C495.58 104.40 498.89 103.18 502.21 101.96C505.52 100.74 508.83 99.53 512.15 98.31C515.46 97.10 518.78 95.89 522.10 94.68C525.42 93.48 528.74 92.27 532.06 91.07C535.38 89.86 538.70 88.66 542.03 87.46C545.35 86.26 548.68 85.06 552.00 83.86C555.33 82.66 558.66 81.46 561.99 80.26C565.32 79.06 568.65 77.86 571.99 76.66C575.32 75.46 578.66 74.26 581.99 73.06C585.33 71.86 588.66 70.65 592.00 69.45" stroke="#ff8000"/>
<path d="M80.80 519.40C81.03 512.93 81.19 506.46 81.50 500.00C81.82 493.33 82.08 486.64 82.70 480.00C83.11 475.58 83.58 469.48 84.60 466.80C84.88 466.08 86.11 468.71 86.60 469.80C87.54 471.88 88.21 476.27 88.90 476.30C89.55 476.33 90.14 472.12 90.60 470.00C91.67 465.02 92.49 459.99 93.50 455.00C94.62 449.46 95.52 443.84 97.00 438.40C97.79 435.51 99.43 432.88 100.30 430.00C102.77 421.81 104.47 413.37 107.00 405.20C108.93 398.97 111.25 392.85 113.70 386.80C115.99 381.15 118.59 375.62 121.20 370.10C123.86 364.48 126.05 358.39 129.50 353.40C131.05 351.16 133.83 349.84 136.20 348.40C138.86 346.78 142.37 346.25 144.60 344.20C147.24 341.78 148.93 338.19 150.80 335.00C153.93 329.65 156.05 323.60 159.60 318.60C161.92 315.33 165.65 313.17 168.40 310.20C170.81 307.60 173.20 304.88 175.10 301.90C177.10 298.75 178.04 294.90 180.10 291.80C181.94 289.03 184.31 286.49 186.80 284.30C188.74 282.59 191.00 280.63 193.40 280.10C196.00 279.53 199.51 282.02 201.80 281.00C204.54 279.78 206.32 275.98 208.50 273.40C210.79 270.68 212.83 267.74 215.20 265.10C217.83 262.18 220.51 259.24 223.50 256.70C226.08 254.51 228.97 252.61 231.90 250.90C235.67 248.71 239.79 247.13 243.60 245.00C246.16 243.57 248.82 242.13 251.00 240.20C253.45 238.03 255.07 234.93 257.50 232.70C261.44 229.09 265.98 226.13 270.10 222.70C273.51 219.86 276.34 216.02 280.10 213.90C283.01 212.26 286.82 212.41 290.10 211.40C293.52 210.34 297.01 209.29 300.20 207.70C303.71 205.95 306.93 203.59 310.20 201.40C314.43 198.56 318.35 195.22 322.70 192.60C326.71 190.19 331.10 188.40 335.30 186.30C340.30 183.80 345.22 181.13 350.30 178.80C355.25 176.53 360.36 174.59 365.40 172.50C370.40 170.43 375.49 168.55 380.40 166.30C384.35 164.49 388.16 162.35 392.00 160.30C399.73 156.18 407.23 151.61 415.10 147.80C423.29 143.84 431.82 140.56 440.20 137.00C448.52 133.46 456.89 130.05 465.20 126.50C470.15 124.38 475.16 122.35 480.00 120.00C485.66 117.25 491.03 113.92 496.70 111.20C502.16 108.58 507.79 106.30 513.40 104.00C517.29 102.40 521.32 101.13 525.20 99.50C530.19 97.40 535.06 95.02 540.00 92.80C557.33 85.00 574.67 77.23 592.00 69.45" stroke="#ff8000" stroke-dasharray="3.95 3.9"/>
</g>
<rect x="71.00" y="69.45" width="521.00" height="449.95" fill="none" stroke="#000" stroke-width="1.5"/>
<text transform="translate(65.70 77.05) scale(0.9350 1)" text-anchor="end">1</text>
<text transform="translate(65.70 122.04) scale(0.9350 1)" text-anchor="end">0.98</text>
<text transform="translate(65.70 167.04) scale(0.9350 1)" text-anchor="end">0.96</text>
<text transform="translate(65.70 212.03) scale(0.9350 1)" text-anchor="end">0.94</text>
<text transform="translate(65.70 257.03) scale(0.9350 1)" text-anchor="end">0.92</text>
<text transform="translate(65.70 302.03) scale(0.9350 1)" text-anchor="end">0.9</text>
<text transform="translate(65.70 347.02) scale(0.9350 1)" text-anchor="end">0.88</text>
<text transform="translate(65.70 392.02) scale(0.9350 1)" text-anchor="end">0.86</text>
<text transform="translate(65.70 437.01) scale(0.9350 1)" text-anchor="end">0.84</text>
<text transform="translate(65.70 482.00) scale(0.9350 1)" text-anchor="end">0.82</text>
<text transform="translate(65.70 527.00) scale(0.9350 1)" text-anchor="end">0.8</text>
<text transform="translate(71.00 539.60) scale(0.9350 1)" text-anchor="middle">0</text>
<text transform="translate(123.10 539.60) scale(0.9350 1)" text-anchor="middle">0.1</text>
<text transform="translate(175.20 539.60) scale(0.9350 1)" text-anchor="middle">0.2</text>
<text transform="translate(227.30 539.60) scale(0.9350 1)" text-anchor="middle">0.3</text>
<text transform="translate(279.40 539.60) scale(0.9350 1)" text-anchor="middle">0.4</text>
<text transform="translate(331.50 539.60) scale(0.9350 1)" text-anchor="middle">0.5</text>
<text transform="translate(383.60 539.60) scale(0.9350 1)" text-anchor="middle">0.6</text>
<text transform="translate(435.70 539.60) scale(0.9350 1)" text-anchor="middle">0.7</text>
<text transform="translate(487.80 539.60) scale(0.9350 1)" text-anchor="middle">0.8</text>
<text transform="translate(539.90 539.60) scale(0.9350 1)" text-anchor="middle">0.9</text>
<text transform="translate(592.00 539.60) scale(0.9350 1)" text-anchor="middle">1</text>
<text transform="translate(331.30 564.20) scale(0.9450 1)" text-anchor="middle">Recall</text>
<text transform="translate(19.30 294.20) rotate(-90) scale(0.9720 1)" text-anchor="middle">Precision</text>
<rect x="374.00" y="300.00" width="206.40" height="208.50" fill="#fff" stroke="#000" stroke-width="1.4"/>
<path d="M378.9 313.80H401.3" stroke="#ff0000" stroke-width="2.30" fill="none"/>
<text transform="translate(410.10 320.40) scale(0.9200 1)" text-anchor="middle">1</text>
<text transform="translate(421.60 320.40) scale(0.9850 1)" text-anchor="start">Ours</text>
<path d="M469.4 313.80H491.8" stroke="#ff0000" stroke-width="2.30" stroke-dasharray="3.95 3.9" fill="none"/>
<text transform="translate(500.60 320.40) scale(0.9200 1)" text-anchor="middle">1</text>
<text transform="translate(512.90 320.40) scale(0.9420 1)" text-anchor="start">GoDec</text>
<path d="M378.9 336.40H401.3" stroke="#ffe600" stroke-width="2.30" fill="none"/>
<text transform="translate(410.10 343.00) scale(0.9200 1)" text-anchor="middle">2</text>
<text transform="translate(421.60 343.00) scale(0.9850 1)" text-anchor="start">Ours</text>
<path d="M469.4 336.40H491.8" stroke="#ffe600" stroke-width="2.30" stroke-dasharray="3.95 3.9" fill="none"/>
<text transform="translate(500.60 343.00) scale(0.9200 1)" text-anchor="middle">2</text>
<text transform="translate(512.90 343.00) scale(0.9420 1)" text-anchor="start">GoDec</text>
<path d="M378.9 359.00H401.3" stroke="#00ff00" stroke-width="2.30" fill="none"/>
<text transform="translate(410.10 365.60) scale(0.9200 1)" text-anchor="middle">3</text>
<text transform="translate(421.60 365.60) scale(0.9850 1)" text-anchor="start">Ours</text>
<path d="M469.4 359.00H491.8" stroke="#00ff00" stroke-width="2.30" stroke-dasharray="3.95 3.9" fill="none"/>
<text transform="translate(500.60 365.60) scale(0.9200 1)" text-anchor="middle">3</text>
<text transform="translate(512.90 365.60) scale(0.9420 1)" text-anchor="start">GoDec</text>
<path d="M378.9 381.60H401.3" stroke="#0000ff" stroke-width="2.30" fill="none"/>
<text transform="translate(410.10 388.20) scale(0.9200 1)" text-anchor="middle">4</text>
<text transform="translate(421.60 388.20) scale(0.9850 1)" text-anchor="start">Ours</text>
<path d="M469.4 381.60H491.8" stroke="#0000ff" stroke-width="2.30" stroke-dasharray="3.95 3.9" fill="none"/>
<text transform="translate(500.60 388.20) scale(0.9200 1)" text-anchor="middle">4</text>
<text transform="translate(512.90 388.20) scale(0.9420 1)" text-anchor="start">GoDec</text>
<path d="M378.9 404.20H401.3" stroke="#ec008c" stroke-width="2.30" fill="none"/>
<text transform="translate(410.10 410.80) scale(0.9200 1)" text-anchor="middle">5</text>
<text transform="translate(421.60 410.80) scale(0.9850 1)" text-anchor="start">Ours</text>
<path d="M469.4 404.20H491.8" stroke="#ec008c" stroke-width="2.30" stroke-dasharray="3.95 3.9" fill="none"/>
<text transform="translate(500.60 410.80) scale(0.9200 1)" text-anchor="middle">5</text>
<text transform="translate(512.90 410.80) scale(0.9420 1)" text-anchor="start">GoDec</text>
<path d="M378.9 426.80H401.3" stroke="#000000" stroke-width="2.30" fill="none"/>
<text transform="translate(410.10 433.40) scale(0.9200 1)" text-anchor="middle">6</text>
<text transform="translate(421.60 433.40) scale(0.9850 1)" text-anchor="start">Ours</text>
<path d="M469.4 426.80H491.8" stroke="#000000" stroke-width="2.30" stroke-dasharray="3.95 3.9" fill="none"/>
<text transform="translate(500.60 433.40) scale(0.9200 1)" text-anchor="middle">6</text>
<text transform="translate(512.90 433.40) scale(0.9420 1)" text-anchor="start">GoDec</text>
<path d="M378.9 449.40H401.3" stroke="#bf8040" stroke-width="2.30" fill="none"/>
<text transform="translate(410.10 456.00) scale(0.9200 1)" text-anchor="middle">7</text>
<text transform="translate(421.60 456.00) scale(0.9850 1)" text-anchor="start">Ours</text>
<path d="M469.4 449.40H491.8" stroke="#bf8040" stroke-width="2.30" stroke-dasharray="3.95 3.9" fill="none"/>
<text transform="translate(500.60 456.00) scale(0.9200 1)" text-anchor="middle">7</text>
<text transform="translate(512.90 456.00) scale(0.9420 1)" text-anchor="start">GoDec</text>
<path d="M378.9 472.00H401.3" stroke="#00aeef" stroke-width="2.30" fill="none"/>
<text transform="translate(410.10 478.60) scale(0.9200 1)" text-anchor="middle">8</text>
<text transform="translate(421.60 478.60) scale(0.9850 1)" text-anchor="start">Ours</text>
<path d="M469.4 472.00H491.8" stroke="#00aeef" stroke-width="2.30" stroke-dasharray="3.95 3.9" fill="none"/>
<text transform="translate(500.60 478.60) scale(0.9200 1)" text-anchor="middle">8</text>
<text transform="translate(512.90 478.60) scale(0.9420 1)" text-anchor="start">GoDec</text>
<path d="M378.9 494.60H401.3" stroke="#ff8000" stroke-width="2.30" fill="none"/>
<text transform="translate(410.10 501.20) scale(0.9200 1)" text-anchor="middle">9</text>
<text transform="translate(421.60 501.20) scale(0.9850 1)" text-anchor="start">Ours</text>
<path d="M469.4 494.60H491.8" stroke="#ff8000" stroke-width="2.30" stroke-dasharray="3.95 3.9" fill="none"/>
<text transform="translate(500.60 501.20) scale(0.9200 1)" text-anchor="middle">9</text>
<text transform="translate(512.90 501.20) scale(0.9420 1)" text-anchor="start">GoDec</text>
</svg></body></html>
